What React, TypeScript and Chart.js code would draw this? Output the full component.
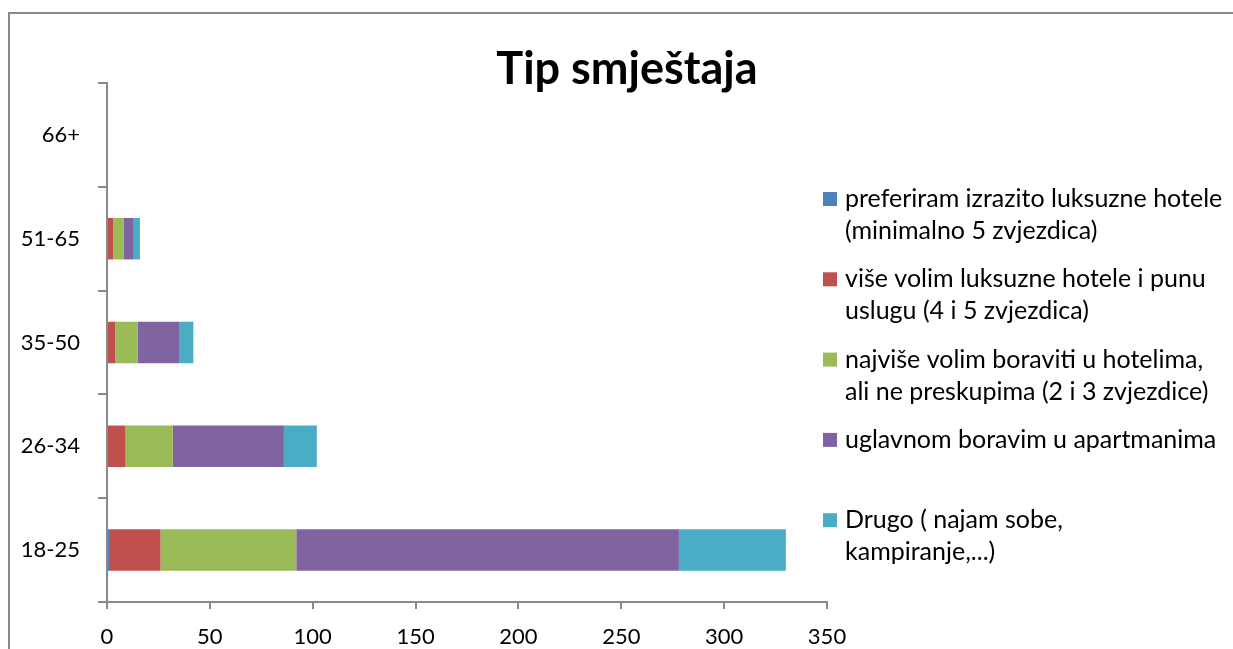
import React, { useEffect, useRef } from 'react';
import { Chart, registerables } from 'chart.js';

Chart.register(...registerables);

const chartTitle = 'Tip smještaja';
const categories = ['18-25', '26-34', '35-50', '51-65', '66+'];
const xTicks = [0, 50, 100, 150, 200, 250, 300, 350];

const seriesLabels: string[][] = [
  ['preferiram izrazito luksuzne hotele', '(minimalno 5 zvjezdica)'],
  ['više volim luksuzne hotele i punu', 'uslugu (4 i 5 zvjezdica)'],
  ['najviše volim boraviti u hotelima,', 'ali ne preskupima (2 i 3 zvjezdice)'],
  ['uglavnom boravim u apartmanima'],
  ['Drugo ( najam sobe,', 'kampiranje,...)'],
];
const seriesColors = ['#4F81BD', '#C0504D', '#9BBB59', '#8064A2', '#4BACC6'];

const luksuzni5 = [1, 0, 0, 0, 0];
const luksuzni45 = [25, 9, 4, 3, 0];
const hoteli23 = [66, 23, 11, 5, 0];
const apartmani = [186, 54, 20, 5, 0];
const drugo = [52, 16, 7, 3, 0];
const seriesValues = [luksuzni5, luksuzni45, hoteli23, apartmani, drugo];

const FONT = 'Lato, "Open Sans", sans-serif';
const AXIS_GRAY = '#8a8a8a';

const decorPlugin = {
  id: 'decor',
  beforeDraw(chart: any) {
    const ctx = chart.ctx;
    ctx.save();
    ctx.fillStyle = AXIS_GRAY;
    ctx.fillRect(8, 12, 1225, 2);
    ctx.fillRect(8, 12, 2, 637);
    ctx.restore();
  },
  afterDraw(chart: any) {
    const ctx = chart.ctx;
    ctx.save();
    // title
    ctx.fillStyle = '#000';
    ctx.font = `bold 45px ${FONT}`;
    ctx.textAlign = 'center';
    ctx.textBaseline = 'alphabetic';
    ctx.fillText(chartTitle, 627, 84);
    // legend
    ctx.font = `25px ${FONT}`;
    ctx.textAlign = 'left';
    chart.data.datasets.forEach((ds: any, i: number) => {
      const base = 207 + i * 80.3;
      ctx.fillStyle = ds.backgroundColor;
      ctx.fillRect(823, base - 15, 14, 14);
      ctx.fillStyle = '#000';
      const lines: string[] = ds.legendLines;
      lines.forEach((ln, j) => ctx.fillText(ln, 845, base + j * 32));
    });
    ctx.restore();
  },
};

export default function App() {
  const ref = useRef<HTMLCanvasElement | null>(null);
  useEffect(() => {
    if (!ref.current) return;
    const chart = new Chart(ref.current, {
      type: 'bar',
      data: {
        labels: categories,
        datasets: seriesValues.map((vals, i) => ({
          label: seriesLabels[i].join(' '),
          legendLines: seriesLabels[i],
          data: vals,
          backgroundColor: seriesColors[i],
          borderWidth: 0,
          categoryPercentage: 0.8,
          barPercentage: 0.5,
        })) as any,
      },
      options: {
        indexAxis: 'y',
        responsive: false,
        animation: false,
        devicePixelRatio: 1,
        layout: { padding: { left: 0, right: 406, top: 83, bottom: 0 } },
        plugins: {
          legend: { display: false },
          title: { display: false },
          tooltip: { enabled: false },
        },
        scales: {
          x: {
            stacked: true,
            min: 0,
            max: 350,
            afterBuildTicks: (scale: any) => {
              scale.ticks = xTicks.map((v) => ({ value: v }));
            },
            afterFit: (scale: any) => {
              scale.height = 47;
            },
            grid: {
              drawOnChartArea: false,
              drawTicks: true,
              tickLength: 7,
              color: AXIS_GRAY,
              lineWidth: 2,
            },
            border: { display: true, color: AXIS_GRAY, width: 2 },
            ticks: {
              color: '#000',
              font: { family: FONT, size: 22 },
              padding: 15,
              maxRotation: 0,
            },
          },
          y: {
            stacked: true,
            reverse: true,
            offset: true,
            afterFit: (scale: any) => {
              scale.width = 107;
            },
            grid: {
              offset: true,
              drawOnChartArea: false,
              drawTicks: true,
              tickLength: 9,
              color: AXIS_GRAY,
              lineWidth: 2,
            },
            border: { display: true, color: AXIS_GRAY, width: 2 },
            ticks: {
              color: '#000',
              font: { family: FONT, size: 22 },
              padding: 18,
            },
          },
        },
      },
      plugins: [decorPlugin],
    });
    return () => chart.destroy();
  }, []);
  return (
    <div style={{ position: 'fixed', left: 0, top: 0, width: 1233, height: 649, background: '#fff', overflow: 'hidden' }}>
      <canvas ref={ref} width={1233} height={649} style={{ display: 'block', width: 1233, height: 649 }} />
    </div>
  );
}
